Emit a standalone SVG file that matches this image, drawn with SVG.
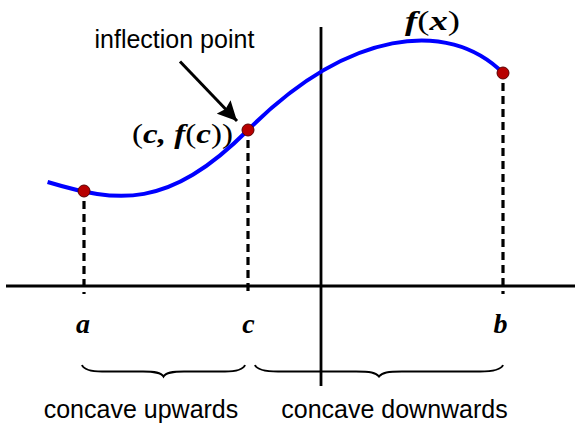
<svg xmlns="http://www.w3.org/2000/svg" width="575" height="424" viewBox="0 0 575 424">
<style>
.axis{stroke:#000;stroke-width:2.8;fill:none}
.dash{stroke:#000;stroke-width:3.2;stroke-dasharray:8 5;fill:none}
.curve{stroke:#0000ff;stroke-width:4;fill:none}
.dot{fill:#b80000;stroke:#5a0000;stroke-width:1}
.brace{stroke:#000;stroke-width:2;fill:none}
.lbl{font-family:"Liberation Sans",Arial,sans-serif;font-size:25px;fill:#000}
.math{font-family:"Liberation Serif","Times New Roman",serif;font-weight:bold;font-style:italic;font-size:28px;fill:#000}
.up{font-style:normal;font-weight:normal}
</style>
<defs>
<marker id="ah" viewBox="0 0 10 10" refX="10" refY="5" markerWidth="6.5" markerHeight="6.5" orient="auto" markerUnits="strokeWidth">
<path d="M0,0 L10,5 L0,10 L1.5,5 z" fill="#000"/>
</marker>
</defs>
<g id="axes">
<line class="axis" x1="6" y1="286" x2="575" y2="286"/>
<line class="axis" x1="321" y1="27" x2="321" y2="386"/>
</g>
<g id="connectors">
<line class="dash" x1="84" y1="201" x2="84" y2="294"/>
<line class="dash" x1="248" y1="140" x2="248" y2="294"/>
<line class="dash" x1="503" y1="83" x2="503" y2="294"/>
<line x1="180" y1="61.5" x2="237" y2="121" stroke="#000" stroke-width="3" marker-end="url(#ah)"/>
</g>
<g id="curve">
<path class="curve" d="M47.6,182 C117.6,203 168,210 248,130 C 348,30 448,18 503,73"/>
</g>
<g id="point-a"><circle class="dot" cx="84" cy="191" r="6"/></g>
<g id="point-c"><circle class="dot" cx="248" cy="130" r="6"/></g>
<g id="point-b"><circle class="dot" cx="503" cy="73" r="6"/></g>
<g id="label-fx"><text class="math" x="405" y="30" textLength="55" lengthAdjust="spacingAndGlyphs">f<tspan class="up">(</tspan>x<tspan class="up">)</tspan></text></g>
<g id="label-cfc"><text class="math" x="132" y="143" textLength="101" lengthAdjust="spacingAndGlyphs"><tspan class="up">(</tspan>c, f<tspan class="up">(</tspan>c<tspan class="up">))</tspan></text></g>
<g id="label-inflection"><text class="lbl" x="94.5" y="48">inflection point</text></g>
<g id="label-a"><text class="math" x="83" y="333" text-anchor="middle">a</text></g>
<g id="label-c"><text class="math" x="248.5" y="333" text-anchor="middle">c</text></g>
<g id="label-b"><text class="math" x="500.5" y="333" text-anchor="middle">b</text></g>
<g id="braces">
<path class="brace" d="M82,365 C84,370 92,371.5 102,371.5 L143,371.5 C155,371.5 161,372.5 163.5,376.5 C166,372.5 172,371.5 184,371.5 L225,371.5 C235,371.5 243,370 245,365"/>
<path class="brace" d="M255,365 C257,370 266,371.5 278,371.5 L356,371.5 C370,371.5 376,372.5 379,376.5 C382,372.5 388,371.5 402,371.5 L480,371.5 C492,371.5 501,370 503,365"/>
</g>
<g id="label-up"><text class="lbl" x="141" y="418" text-anchor="middle">concave upwards</text></g>
<g id="label-down"><text class="lbl" x="394.5" y="418" text-anchor="middle">concave downwards</text></g>
</svg>
